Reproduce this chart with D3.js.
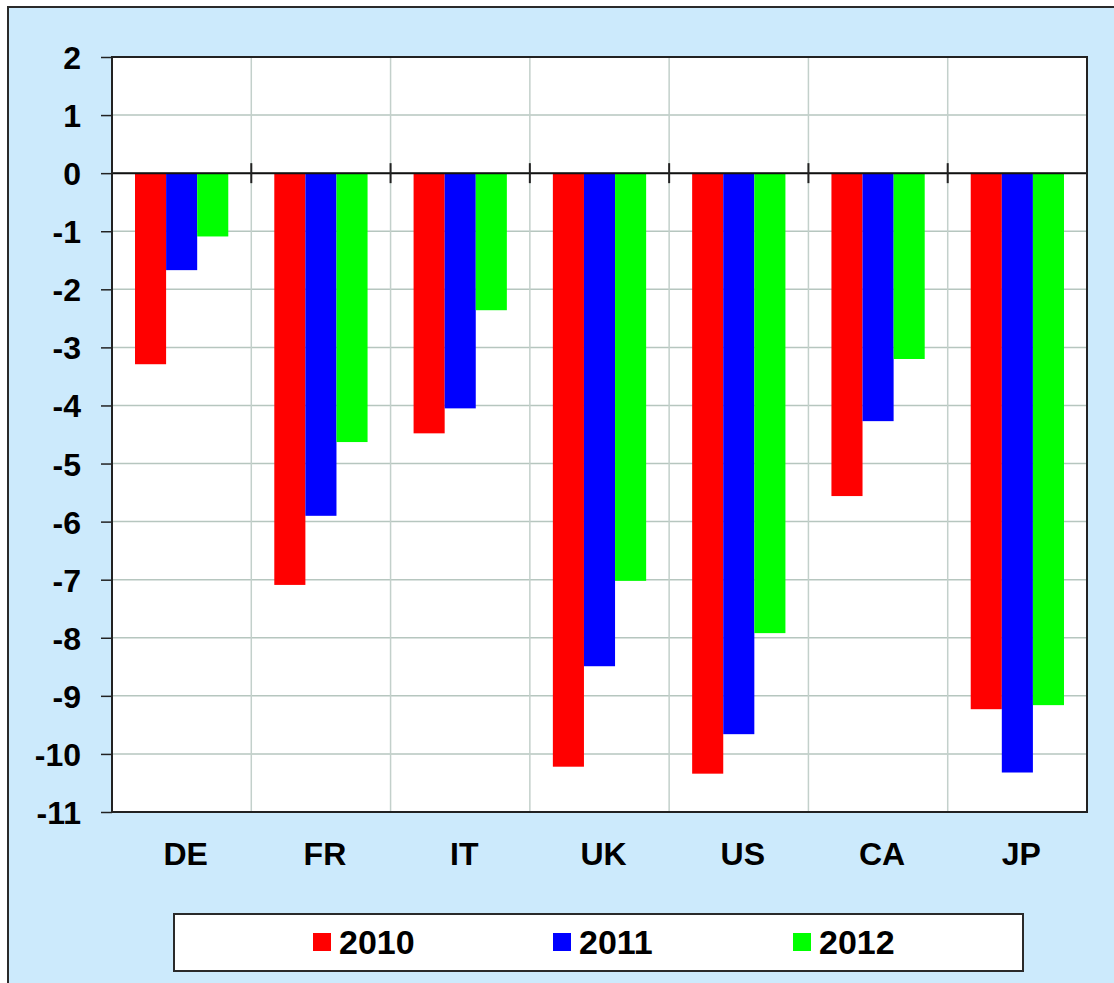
<!DOCTYPE html>
<html>
<head>
<meta charset="utf-8">
<script src="https://cdn.jsdelivr.net/npm/d3@7"></script>
<style>
  body { margin: 0; background: #fff; }
  text { font-family: "Liberation Sans", Arial, sans-serif; font-weight: bold; fill: #000; }
</style>
</head>
<body>
<script>
let countries = ["DE", "FR", "IT", "UK", "US", "CA", "JP"];
let years = ["2010", "2011", "2012"];
let colors = ["#ff0000", "#0000ff", "#00ff00"];
let values2010 = [-3.29, -7.09, -4.48, -10.22, -10.34, -5.56, -9.23];
let values2011 = [-1.67, -5.90, -4.05, -8.49, -9.66, -4.27, -10.32];
let values2012 = [-1.09, -4.63, -2.36, -7.02, -7.92, -3.20, -9.16];
let yTicks = [2, 1, 0, -1, -2, -3, -4, -5, -6, -7, -8, -9, -10, -11];

let series = [values2010, values2011, values2012];

    // canvas and plot area
let W = 1114, H = 983;
let margin = {top: 57, right: 27, bottom: 171, left: 112},
    width = W - margin.left - margin.right,
    height = H - margin.top - margin.bottom;

let svg = d3.select("body").append("svg")
    .attr("width", W)
    .attr("height", H);

    // light blue frame
svg.append("rect")
    .attr("x", 8)
    .attr("y", 7)
    .attr("width", W + 20)
    .attr("height", H + 20)
    .style("fill", "#cceafc")
    .style("stroke", "#2a2a2a")
    .style("stroke-width", 2);

let g = svg.append("g")
    .attr("transform", "translate(" + margin.left + "," + margin.top + ")");

    // scales
let x = d3.scaleBand().domain(countries).range([0, width]).paddingInner(0).paddingOuter(0);
let x1 = d3.scaleBand().domain(years).range([0, x.bandwidth()]).paddingOuter(0.74).paddingInner(0);
let y = d3.scaleLinear().domain([-11, 2]).range([height, 0]);

g.append("rect")
    .attr("width", width)
    .attr("height", height)
    .style("fill", "#fff");

    // grid
g.selectAll(".hgrid")
    .data(yTicks)
    .enter().append("line")
    .attr("x1", 0).attr("x2", width)
    .attr("y1", d => y(d)).attr("y2", d => y(d))
    .style("stroke", "#b6c6bf")
    .style("stroke-width", 1.5);

g.selectAll(".vgrid")
    .data(countries.slice(1))
    .enter().append("line")
    .attr("x1", d => x(d)).attr("x2", d => x(d))
    .attr("y1", 0).attr("y2", height)
    .style("stroke", "#c3d0cb")
    .style("stroke-width", 1.5);

    // bars
series.forEach((vals, i) => {
    g.selectAll(".bar" + i)
        .data(vals)
        .enter().append("rect")
        .attr("x", (d, j) => x(countries[j]) + x1(years[i]))
        .attr("width", x1.bandwidth())
        .attr("y", y(0))
        .attr("height", d => y(d) - y(0))
        .style("fill", colors[i]);
});

    // y axis (plain hyphen minus like the original)
let yAxis = d3.axisLeft(y)
    .tickValues(yTicks)
    .tickSize(11)
    .tickPadding(20)
    .tickFormat(d => String(d));

let ya = g.append("g").call(yAxis);
ya.select(".domain").remove();
ya.selectAll("line").style("stroke", "#222").style("stroke-width", 1.5);
ya.selectAll("text")
    .style("font-size", "32px")
    .attr("dy", "0.36em");

    // zero line with crossing ticks
g.append("line")
    .attr("x1", 0).attr("x2", width)
    .attr("y1", y(0)).attr("y2", y(0))
    .style("stroke", "#111")
    .style("stroke-width", 2);

g.selectAll(".ztick")
    .data(countries.slice(1).map(c => x(c)).concat([width]))
    .enter().append("line")
    .attr("x1", d => d).attr("x2", d => d)
    .attr("y1", y(0) - 10).attr("y2", y(0) + 10)
    .style("stroke", "#222")
    .style("stroke-width", 2);

    // plot border
g.append("rect")
    .attr("width", width)
    .attr("height", height)
    .style("fill", "none")
    .style("stroke", "#222")
    .style("stroke-width", 2);

    // category labels
g.selectAll(".cat")
    .data(countries)
    .enter().append("text")
    .attr("x", d => x(d) + x.bandwidth() / 2 + 4)
    .attr("y", height + 53)
    .attr("text-anchor", "middle")
    .style("font-size", "32px")
    .text(d => d);

    // legend
svg.append("rect")
    .attr("x", 174)
    .attr("y", 914)
    .attr("width", 849)
    .attr("height", 57)
    .style("fill", "#fff")
    .style("stroke", "#2a2a2a")
    .style("stroke-width", 2);

let legend = svg.selectAll(".legend")
    .data(years)
    .enter().append("g")
    .attr("transform", (d, i) => "translate(" + (313 + i * 240) + ",933)");

legend.append("rect")
    .attr("width", 18)
    .attr("height", 18)
    .style("fill", (d, i) => colors[i]);

legend.append("text")
    .attr("x", 26)
    .attr("y", 21)
    .style("font-size", "34px")
    .text(d => d);
</script>
</body>
</html>
